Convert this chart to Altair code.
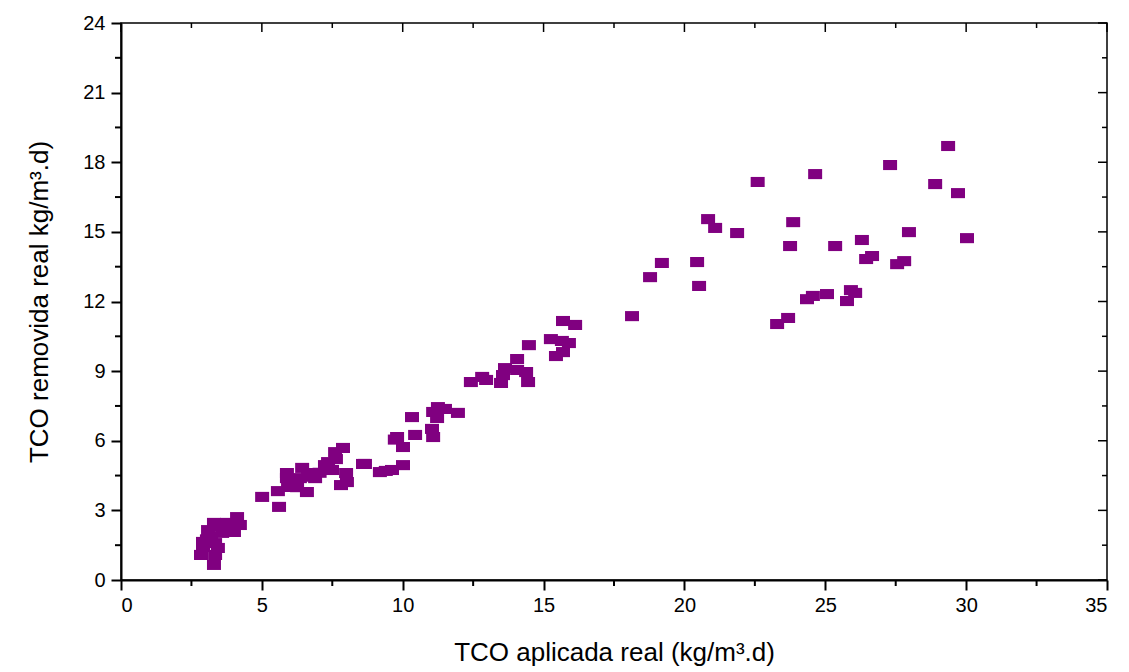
import altair as alt
import pandas as pd

# TCO aplicada real (x) and TCO removida real (y)
x_vals = [
    4.12, 3.76, 3.30, 4.22, 3.09, 4.01, 3.59, 2.91, 3.34, 3.44, 2.91, 2.84, 3.34, 3.30,
    3.20, 3.55, 3.05,
    7.88, 7.60, 7.63, 7.35, 7.24, 7.49, 7.99, 8.02, 7.81, 8.59, 6.43, 6.64, 5.89, 6.89,
    6.35, 5.89, 6.18, 5.93, 6.60, 5.57, 5.01, 5.61, 7.05, 6.25, 6.72,
    11.25, 11.50, 11.96, 11.08, 11.22, 11.04, 11.08, 10.33, 10.44, 9.80, 10.01, 8.66,
    9.19, 9.62, 10.01, 9.72, 9.40,
    15.69, 16.12, 14.48, 15.26, 15.65, 15.90, 15.69, 15.44, 14.06, 13.63, 14.06, 14.38,
    13.56, 13.49, 14.45, 12.42, 12.82, 12.96,
    18.14, 18.78, 19.20, 20.45, 20.52, 20.84, 21.09, 21.87, 22.60, 23.29, 23.68, 23.75,
    23.86, 24.35, 24.56, 24.64, 25.06, 25.35, 25.77, 25.91, 26.06, 26.30, 26.45, 26.66,
    27.30, 27.55, 27.80, 27.97, 28.90, 29.36, 29.71, 30.03,
]
y_vals = [
    2.71, 2.46, 2.46, 2.37, 2.15, 2.07, 2.03, 1.64, 1.59, 1.38, 1.42, 1.08, 1.08, 0.65,
    1.85, 2.30, 1.75,
    5.69, 5.51, 5.21, 5.08, 4.95, 4.74, 4.61, 4.22, 4.09, 5.00, 4.83, 4.61, 4.61, 4.39,
    4.39, 4.39, 4.18, 4.01, 3.79, 3.83, 3.58, 3.15, 4.62, 4.00, 4.45,
    7.45, 7.37, 7.20, 7.24, 6.98, 6.51, 6.16, 7.02, 6.25, 6.16, 5.73, 5.00,
    4.65, 4.74, 4.95, 6.05, 4.70,
    11.16, 10.99, 10.12, 10.38, 10.30, 10.21, 9.82, 9.65, 9.52, 9.13, 9.05, 8.96,
    8.83, 8.49, 8.53, 8.53, 8.75, 8.62,
    11.37, 13.05, 13.66, 13.70, 12.67, 15.55, 15.17, 14.95, 17.15, 11.03, 11.29, 14.39,
    15.42, 12.10, 12.24, 17.49, 12.32, 14.39, 12.02, 12.49, 12.37, 14.65, 13.83, 13.96,
    17.88, 13.61, 13.74, 14.99, 17.06, 18.70, 16.67, 14.73,
]

x_major = [0, 5, 10, 15, 20, 25, 30, 35]
x_minor = [2.5, 7.5, 12.5, 17.5, 22.5, 27.5, 32.5]
y_major = [0, 3, 6, 9, 12, 15, 18, 21, 24]
y_minor = [1.5, 4.5, 7.5, 10.5, 13.5, 16.5, 19.5, 22.5]

W, H = 986, 557
FONT = "Liberation Sans"
PURPLE = "#800080"

df = pd.DataFrame({"x": x_vals, "y": y_vals})
xmaj = pd.DataFrame({"x": x_major})
xmin = pd.DataFrame({"x": x_minor})
ymaj = pd.DataFrame({"y": y_major})
ymin = pd.DataFrame({"y": y_minor})

xscale = alt.Scale(domain=[0, 35], nice=False, zero=False)
yscale = alt.Scale(domain=[0, 24], nice=False, zero=False)

xaxis = alt.Axis(
    values=x_major,
    format="d",
    tickSize=10,
    tickWidth=2,
    tickColor="black",
    domainColor="black",
    domainWidth=2,
    grid=False,
    labelFont=FONT,
    labelFontSize=20,
    labelColor="black",
    labelPadding=5,
    title="TCO aplicada real (kg/m³.d)",
    titleFont=FONT,
    titleFontSize=26,
    titleFontWeight="normal",
    titleColor="black",
    titlePadding=24,
)
yaxis = alt.Axis(
    values=y_major,
    format="d",
    tickSize=10,
    tickWidth=2,
    tickColor="black",
    domainColor="black",
    domainWidth=2,
    grid=False,
    labelFont=FONT,
    labelFontSize=20,
    labelColor="black",
    labelPadding=6,
    title="TCO removida real kg/m³.d)",
    titleFont=FONT,
    titleFontSize=26,
    titleFontWeight="normal",
    titleColor="black",
    titlePadding=30,
)

points = alt.Chart(df).mark_point(
    shape="M-1,-0.72L1,-0.72L1,0.72L-1,0.72Z",
    size=196,
    filled=True,
    opacity=1,
    color=PURPLE,
    strokeWidth=0,
).encode(
    x=alt.X("x:Q", scale=xscale, axis=xaxis),
    y=alt.Y("y:Q", scale=yscale, axis=yaxis),
)


def xrule(data, y0, y1, width):
    return alt.Chart(data).mark_rule(color="black", strokeWidth=width).encode(
        x=alt.X("x:Q", scale=xscale, axis=xaxis),
        y=alt.value(y0),
        y2=alt.value(y1),
    )


def yrule(data, x0, x1, width):
    return alt.Chart(data).mark_rule(color="black", strokeWidth=width).encode(
        y=alt.Y("y:Q", scale=yscale, axis=yaxis),
        x=alt.value(x0),
        x2=alt.value(x1),
    )


layers = [
    points,
    xrule(xmin, H, H + 6, 2),       # bottom minor ticks (outward)
    yrule(ymin, 0, -6, 2),          # left minor ticks (outward)
    xrule(xmaj, 0, 9, 1.5),         # top major ticks (inward)
    xrule(xmin, 0, 5, 1.5),         # top minor ticks (inward)
    yrule(ymaj, W, W - 9, 1.5),     # right major ticks (inward)
    yrule(ymin, W, W - 5, 1.5),     # right minor ticks (inward)
]

chart = alt.layer(*layers).properties(
    width=W,
    height=H,
    autosize=alt.AutoSizeParams(type="none"),
    padding={"left": 121, "top": 23, "right": 22, "bottom": 92},
    background="white",
).configure_view(
    stroke="black",
    strokeWidth=1.5,
)

chart.save("out.html", embed_options={"renderer": "svg", "actions": False})
